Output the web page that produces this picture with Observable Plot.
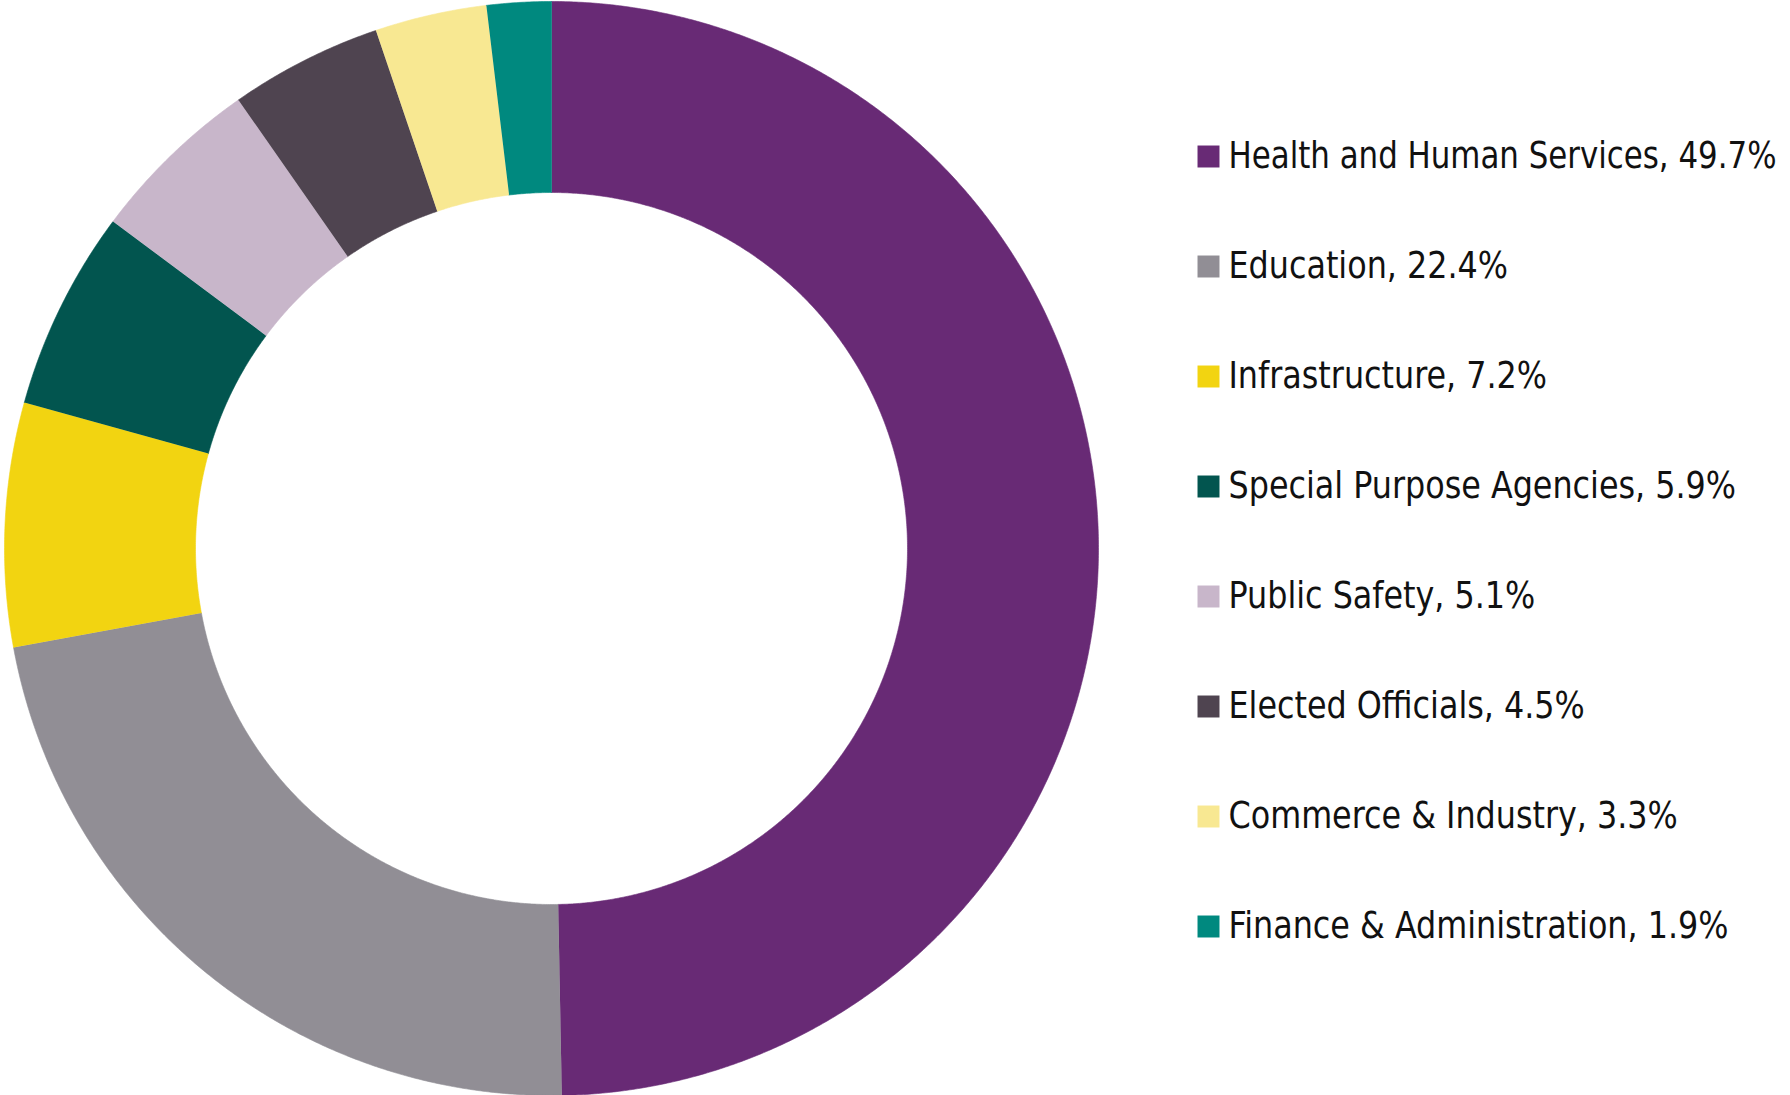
<!DOCTYPE html>
<html>
<head>
<meta charset="utf-8">
<script src="https://cdn.jsdelivr.net/npm/d3@7"></script>
<script src="https://cdn.jsdelivr.net/npm/@observablehq/plot@0.6"></script>
<style>
  html, body { margin: 0; padding: 0; background: #fff; }
  #wrap { position: relative; width: 1790px; height: 1095px; overflow: hidden; }
  #wrap > svg { position: absolute; left: 0; top: 0; }
</style>
</head>
<body>
<div id="wrap"></div>
<script>
const categories = [
  "Health and Human Services",
  "Education",
  "Infrastructure",
  "Special Purpose Agencies",
  "Public Safety",
  "Elected Officials",
  "Commerce & Industry",
  "Finance & Administration"
];
const shares = [49.7, 22.4, 7.2, 5.9, 5.1, 4.5, 3.3, 1.9];
const colors = ["#682a75", "#918e95", "#f2d411", "#02554f", "#c8b6ca", "#4f4450", "#f8e892", "#00897f"];

const W = 1790, H = 1095;
const cx = 551, cy = 548, R = 547, r0 = 356;
const inner = r0 / R;

// build donut ring polygons from the shares (clockwise from 12 o'clock)
const total = d3.sum(shares);
const ring = [];
let acc = 0;
categories.forEach((cat, i) => {
  const a0 = acc / total * 2 * Math.PI;
  acc += shares[i];
  const a1 = acc / total * 2 * Math.PI;
  const n = Math.max(8, Math.ceil((a1 - a0) / 0.005));
  for (let k = 0; k <= n; k++) {
    const a = a0 + (a1 - a0) * k / n;
    ring.push({cat, x: Math.sin(a), y: Math.cos(a)});
  }
  for (let k = n; k >= 0; k--) {
    const a = a0 + (a1 - a0) * k / n;
    ring.push({cat, x: inner * Math.sin(a), y: inner * Math.cos(a)});
  }
});

const color = {domain: categories, range: colors};

const donut = Plot.plot({
  width: W, height: H,
  margin: 0,
  x: {domain: [-cx / R, (W - cx) / R], range: [0, W], axis: null},
  y: {domain: [-(H - cy) / R, cy / R], range: [H, 0], axis: null},
  color,
  marks: [
    Plot.line(ring, {x: "x", y: "y", z: "cat", fill: "cat", stroke: "cat", strokeWidth: 0.6, curve: "linear"})
  ]
});

const fs = 32;          // layout size; glyphs are stretched vertically to the reference's ~37px
const vScale = 37 / 32;
const textX = 1228;
const labels = categories.map((c, i) => `${c}, ${shares[i]}%`);
const legendData = categories.map((c, i) => ({cat: c, label: labels[i]}));

const legend = Plot.plot({
  width: W, height: H,
  margin: 0,
  x: {domain: [0, W], range: [0, W], axis: null},
  y: {type: "point", domain: categories, range: [154, 154 + 7 * 110.5], padding: 0, axis: null},
  color,
  marks: [
    Plot.dot(legendData, {x: () => 1208, y: "cat", fill: "cat", symbol: "square", r: 12.4, stroke: null}),
    Plot.text(legendData, {x: () => textX, y: "cat", text: "label", textAnchor: "start", fontSize: fs,
      fontFamily: "'Liberation Sans Narrow', 'DejaVu Sans Condensed', 'Roboto Condensed', 'Noto Sans', sans-serif",
      fill: "#111"})
  ]
});
legend.style.background = "transparent";

const wrap = document.getElementById("wrap");
wrap.appendChild(donut);
wrap.appendChild(legend);

// fit legend text to the reference's narrow face: width via textLength, height via a vertical stretch
const texts = Array.from(legend.querySelectorAll("text"));
if (texts.length) {
  const wLast = texts[texts.length - 1].getComputedTextLength();
  const k = 500 / wLast;
  texts.forEach(t => {
    const w = t.getComputedTextLength();
    const len = Math.min(w * k, W - 14 - textX);
    t.setAttribute("textLength", len.toFixed(1));
    t.setAttribute("lengthAdjust", "spacingAndGlyphs");
    const tr = t.getAttribute("transform");
    if (tr) {
      t.setAttribute("transform", tr + ` scale(1,${vScale.toFixed(4)})`);
    } else {
      const x = +t.getAttribute("x") || 0, y = +t.getAttribute("y") || 0;
      t.removeAttribute("x"); t.removeAttribute("y");
      t.setAttribute("transform", `translate(${x},${y}) scale(1,${vScale.toFixed(4)})`);
    }
  });
}
</script>
</body>
</html>
